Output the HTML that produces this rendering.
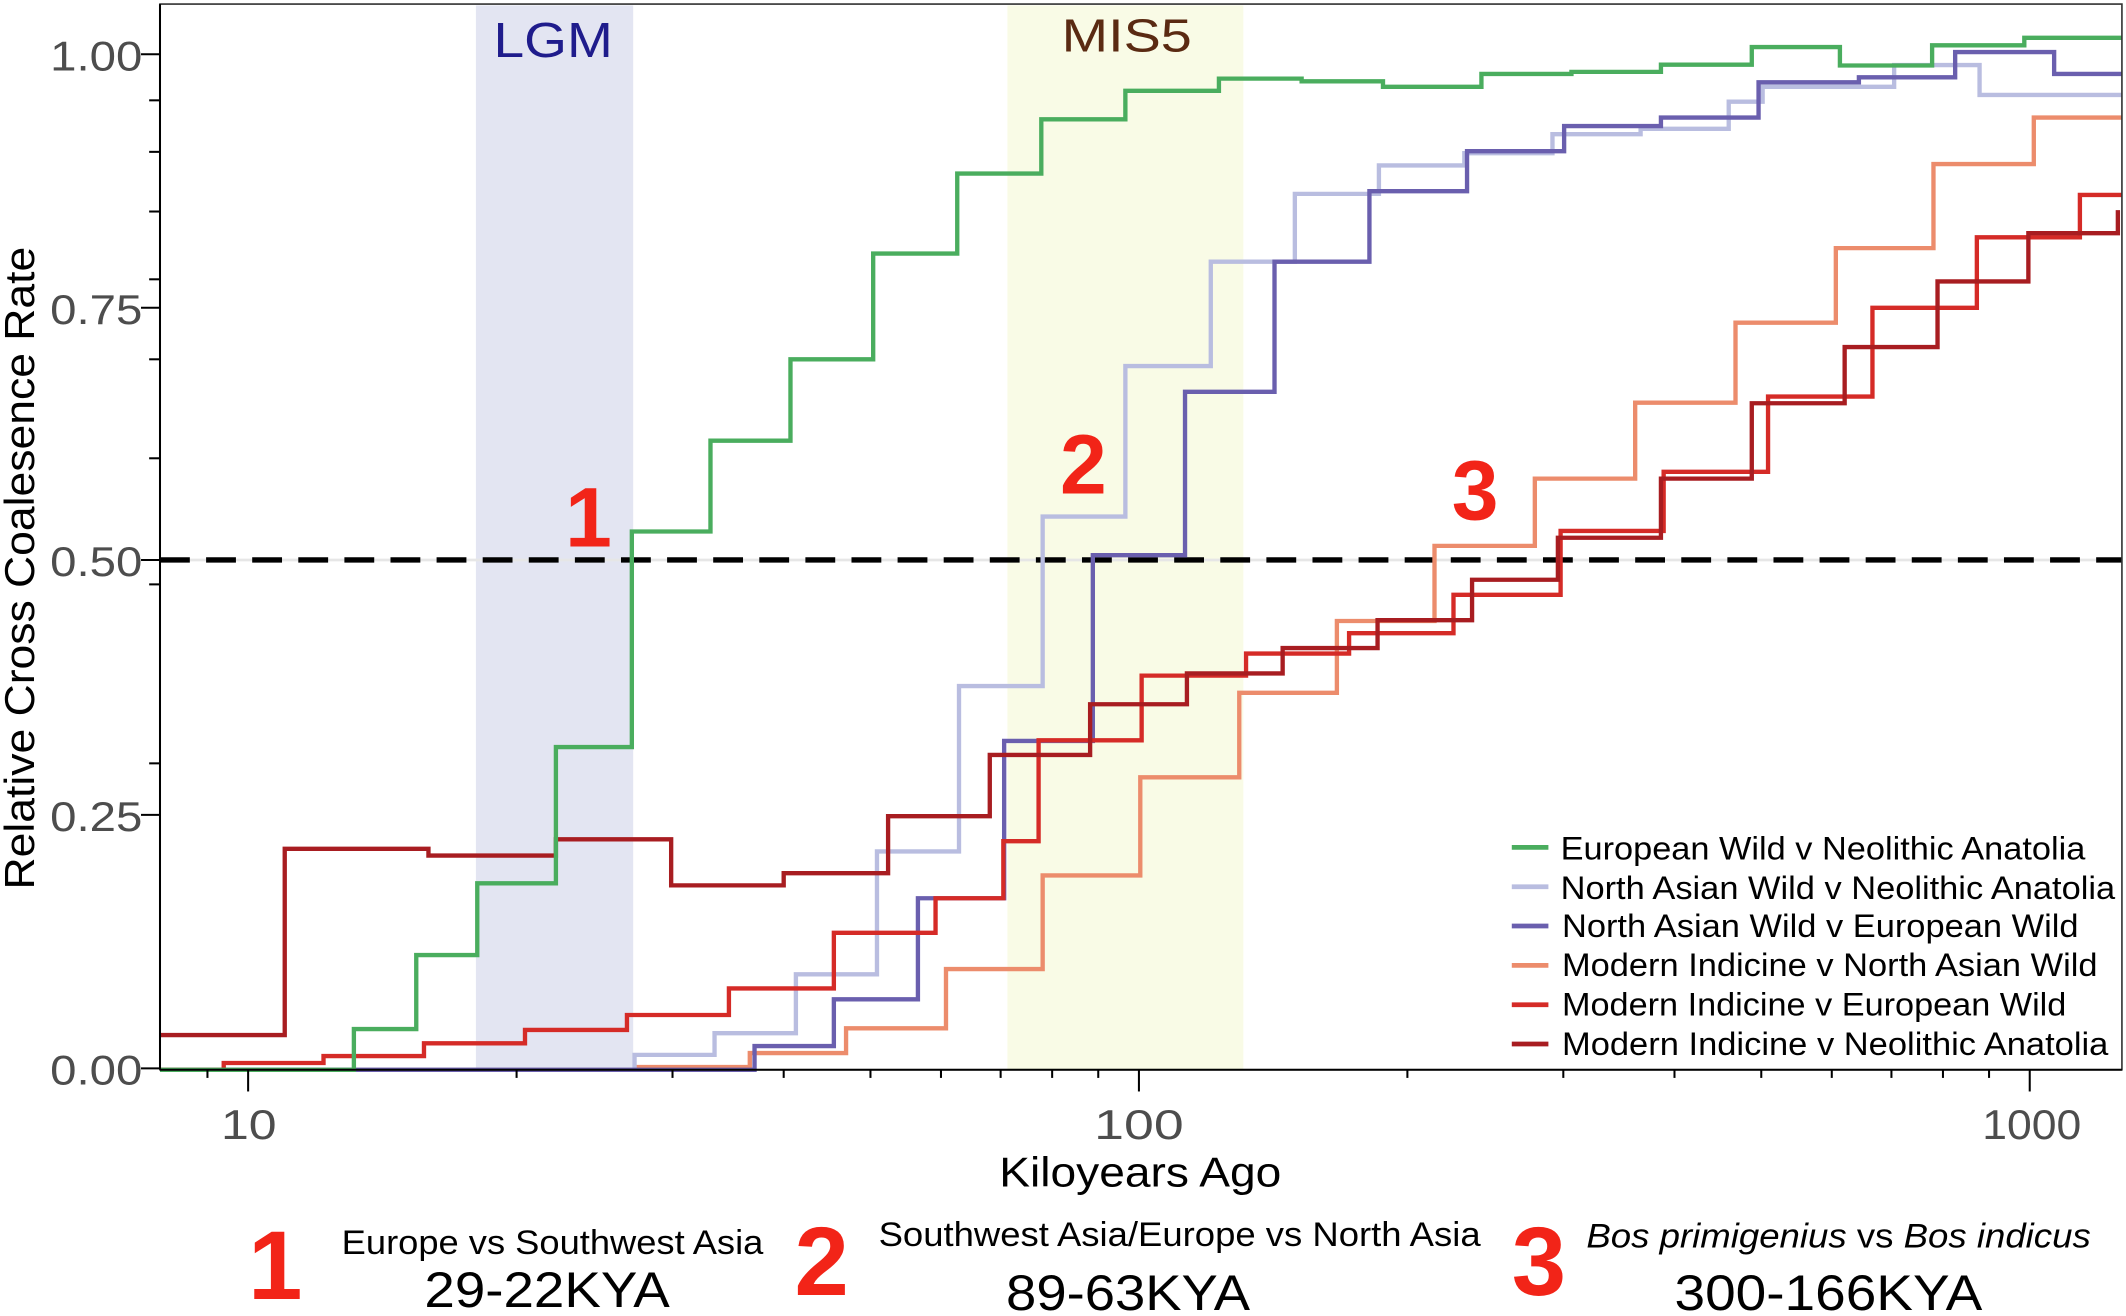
<!DOCTYPE html>
<html><head><meta charset="utf-8"><style>
html,body{margin:0;padding:0;background:#fff;}
svg{display:block;}
text{font-family:"Liberation Sans",Arial,sans-serif;}
</style></head><body>
<svg width="2126" height="1316" viewBox="0 0 1568 970.6" xmlns="http://www.w3.org/2000/svg">
<rect x="0" y="0" width="1568" height="970.6" fill="#fff"/>
<rect x="351" y="4" width="116" height="785" fill="#e3e5f2"/>
<rect x="743" y="4" width="174" height="785" fill="#f9fbe6"/>
<text x="364" y="42" font-size="36" fill="#1f1c8c" textLength="88" lengthAdjust="spacingAndGlyphs">LGM</text>
<text x="783" y="38" font-size="34" fill="#5a2a12" textLength="96" lengthAdjust="spacingAndGlyphs">MIS5</text>
<line x1="118" y1="413" x2="1565" y2="413" stroke="#e6e6e6" stroke-width="2"/>
<line x1="118" y1="413" x2="1565" y2="413" stroke="#000" stroke-width="4" stroke-dasharray="22,12"/>
<g fill="none" stroke-width="3.2" stroke-linejoin="miter">
<polyline stroke="#ec8c6c" points="118,789 470,789 470,787 553,787 553,776.7 624,776.7 624,758.4 697.7,758.4 697.7,714.7 769,714.7 769,645.7 841,645.7 841,573.3 914,573.3 914,511 986,511 986,458 1058,458 1058,402.6 1132,402.6 1132,353 1206,353 1206,297 1280,297 1280,238 1354,238 1354,183 1426,183 1426,121 1500,121 1500,86.7 1565,86.7"/>
<polyline stroke="#b9bde0" points="118,789 468,789 468,778 527,778 527,762 587,762 587,718.6 646.8,718.6 646.8,628 707.3,628 707.3,506 769,506 769,381 830,381 830,270 893,270 893,193 955,193 955,143 1017,143 1017,122 1080,122 1080,113 1145,113 1145,99 1210,99 1210,95 1275,95 1275,75 1300,75 1300,64 1397,64 1397,48 1460,48 1460,70 1565,70"/>
<polyline stroke="#6a5fae" points="118,789 556.5,789 556.5,771.5 615,771.5 615,737 677,737 677,662.5 740.6,662.5 740.6,546.5 806,546.5 806,409.5 874,409.5 874,289 940,289 940,193 1010,193 1010,141 1082,141 1082,111.5 1153.6,111.5 1153.6,93 1225,93 1225,86.7 1297,86.7 1297,60.7 1371,60.7 1371,57 1442,57 1442,38.4 1515,38.4 1515,54.5 1565,54.5"/>
<polyline stroke="#d52b27" points="118,789 165,789 165,784 238.6,784 238.6,778.9 312.7,778.9 312.7,769.5 387.2,769.5 387.2,759.6 462.4,759.6 462.4,748.6 537.6,748.6 537.6,729 615,729 615,688 690,688 690,662.5 740,662.5 740,620.4 766,620.4 766,546 842,546 842,498.3 919,498.3 919,482 995,482 995,467 1072,467 1072,438.7 1151,438.7 1151,391.6 1227,391.6 1227,348 1304,348 1304,292.5 1381,292.5 1381,227 1458,227 1458,175 1534,175 1534,143.8 1565,143.8"/>
<polyline stroke="#a81d21" points="118,763.4 210,763.4 210,626 316,626 316,631 410,631 410,619 495,619 495,653 578,653 578,644 655,644 655,602 730,602 730,556.8 804,556.8 804,519.4 875.4,519.4 875.4,496.7 946,496.7 946,478 1016,478 1016,457.4 1085.7,457.4 1085.7,427.6 1149,427.6 1149,396.6 1225,396.6 1225,353 1292,353 1292,297.4 1360.5,297.4 1360.5,256 1429,256 1429,207.6 1496,207.6 1496,172 1562,172 1562,155"/>
<polyline stroke="#4aad5e" points="118,789 261,789 261,759 307,759 307,704.4 352,704.4 352,651.5 410,651.5 410,551 466,551 466,392 524,392 524,325 583,325 583,265 644,265 644,187 706,187 706,128 768,128 768,88 830,88 830,67 899,67 899,58 960,58 960,60 1020,60 1020,64 1092.6,64 1092.6,54.5 1159,54.5 1159,53 1225,53 1225,47.7 1292,47.7 1292,34.7 1357,34.7 1357,48.3 1425,48.3 1425,33.4 1493,33.4 1493,27.9 1565,27.9"/>
</g>
<rect x="118" y="3" width="1447" height="786" fill="none" stroke="#333" stroke-width="1.2"/>
<line x1="118" y1="3" x2="118" y2="789" stroke="#000" stroke-width="1.5"/>
<line x1="118" y1="789" x2="1565" y2="789" stroke="#000" stroke-width="1.5"/>
<g stroke="#000" stroke-width="1.5">
<line x1="104" y1="40" x2="118" y2="40"/><line x1="104" y1="227" x2="118" y2="227"/><line x1="104" y1="413" x2="118" y2="413"/><line x1="104" y1="601" x2="118" y2="601"/><line x1="104" y1="788" x2="118" y2="788"/>
<line x1="110" y1="74" x2="118" y2="74"/><line x1="110" y1="112" x2="118" y2="112"/><line x1="110" y1="156" x2="118" y2="156"/><line x1="110" y1="206" x2="118" y2="206"/><line x1="110" y1="265" x2="118" y2="265"/><line x1="110" y1="338" x2="118" y2="338"/><line x1="110" y1="431" x2="118" y2="431"/><line x1="110" y1="563" x2="118" y2="563"/>
</g>
<g font-size="31" fill="#4d4d4d">
<text x="37" y="52" textLength="68" lengthAdjust="spacingAndGlyphs">1.00</text>
<text x="37" y="239" textLength="68" lengthAdjust="spacingAndGlyphs">0.75</text>
<text x="37" y="425" textLength="68" lengthAdjust="spacingAndGlyphs">0.50</text>
<text x="37" y="613" textLength="68" lengthAdjust="spacingAndGlyphs">0.25</text>
<text x="37" y="800" textLength="68" lengthAdjust="spacingAndGlyphs">0.00</text>
</g>
<g stroke="#000" stroke-width="1.5">
<line x1="183" y1="789" x2="183" y2="805"/><line x1="840" y1="789" x2="840" y2="805"/><line x1="1497" y1="789" x2="1497" y2="805"/>
<line x1="153" y1="789" x2="153" y2="795"/><line x1="381" y1="789" x2="381" y2="795"/><line x1="496" y1="789" x2="496" y2="795"/><line x1="578" y1="789" x2="578" y2="795"/><line x1="642" y1="789" x2="642" y2="795"/><line x1="694" y1="789" x2="694" y2="795"/><line x1="738" y1="789" x2="738" y2="795"/><line x1="776" y1="789" x2="776" y2="795"/><line x1="810" y1="789" x2="810" y2="795"/>
<line x1="1038" y1="789" x2="1038" y2="795"/><line x1="1153" y1="789" x2="1153" y2="795"/><line x1="1235" y1="789" x2="1235" y2="795"/><line x1="1299" y1="789" x2="1299" y2="795"/><line x1="1351" y1="789" x2="1351" y2="795"/><line x1="1395" y1="789" x2="1395" y2="795"/><line x1="1433" y1="789" x2="1433" y2="795"/><line x1="1467" y1="789" x2="1467" y2="795"/>
</g>
<g font-size="31" fill="#4d4d4d">
<text x="163" y="840" textLength="41" lengthAdjust="spacingAndGlyphs">10</text>
<text x="807" y="840" textLength="66" lengthAdjust="spacingAndGlyphs">100</text>
<text x="1462" y="840" textLength="73" lengthAdjust="spacingAndGlyphs">1000</text>
</g>
<text x="737" y="875" font-size="31" fill="#000" textLength="208" lengthAdjust="spacingAndGlyphs">Kiloyears Ago</text>
<text transform="translate(25,656) rotate(-90)" font-size="31" fill="#000" textLength="474" lengthAdjust="spacingAndGlyphs">Relative Cross Coalesence Rate</text>
<g font-weight="bold" fill="#f22418" text-anchor="middle">
<text x="434" y="403" font-size="62">1</text>
<text x="799" y="364" font-size="62">2</text>
<text x="1088" y="383" font-size="62">3</text>
<text x="203" y="958" font-size="72">1</text>
<text x="606" y="955" font-size="72">2</text>
<text x="1135" y="955" font-size="72">3</text>
</g>
<g stroke-width="3.5">
<line x1="1115" y1="625" x2="1142" y2="625" stroke="#4aad5e"/>
<line x1="1115" y1="654" x2="1142" y2="654" stroke="#b9bde0"/>
<line x1="1115" y1="683" x2="1142" y2="683" stroke="#6a5fae"/>
<line x1="1115" y1="712" x2="1142" y2="712" stroke="#ec8c6c"/>
<line x1="1115" y1="741" x2="1142" y2="741" stroke="#d52b27"/>
<line x1="1115" y1="770" x2="1142" y2="770" stroke="#a81d21"/>
</g>
<g font-size="24" fill="#000">
<text x="1151" y="634" textLength="387" lengthAdjust="spacingAndGlyphs">European Wild v Neolithic Anatolia</text>
<text x="1151" y="663" textLength="409" lengthAdjust="spacingAndGlyphs">North Asian Wild v Neolithic Anatolia</text>
<text x="1152" y="691" textLength="381" lengthAdjust="spacingAndGlyphs">North Asian Wild v European Wild</text>
<text x="1152" y="720" textLength="395" lengthAdjust="spacingAndGlyphs">Modern Indicine v North Asian Wild</text>
<text x="1152" y="749" textLength="372" lengthAdjust="spacingAndGlyphs">Modern Indicine v European Wild</text>
<text x="1152" y="778" textLength="403" lengthAdjust="spacingAndGlyphs">Modern Indicine v Neolithic Anatolia</text>
</g>
<g fill="#000">
<text x="252" y="925" font-size="25" textLength="311" lengthAdjust="spacingAndGlyphs">Europe vs Southwest Asia</text>
<text x="313" y="964" font-size="37" textLength="181" lengthAdjust="spacingAndGlyphs">29-22KYA</text>
<text x="648" y="919" font-size="25" textLength="444" lengthAdjust="spacingAndGlyphs">Southwest Asia/Europe vs North Asia</text>
<text x="742" y="966" font-size="37" textLength="180" lengthAdjust="spacingAndGlyphs">89-63KYA</text>
<text x="1170" y="920" font-size="25" font-style="italic" textLength="372" lengthAdjust="spacingAndGlyphs">Bos primigenius <tspan font-style="normal">vs</tspan> Bos indicus</text>
<text x="1235" y="966" font-size="37" textLength="227" lengthAdjust="spacingAndGlyphs">300-166KYA</text>
</g>
</svg>
</body></html>
